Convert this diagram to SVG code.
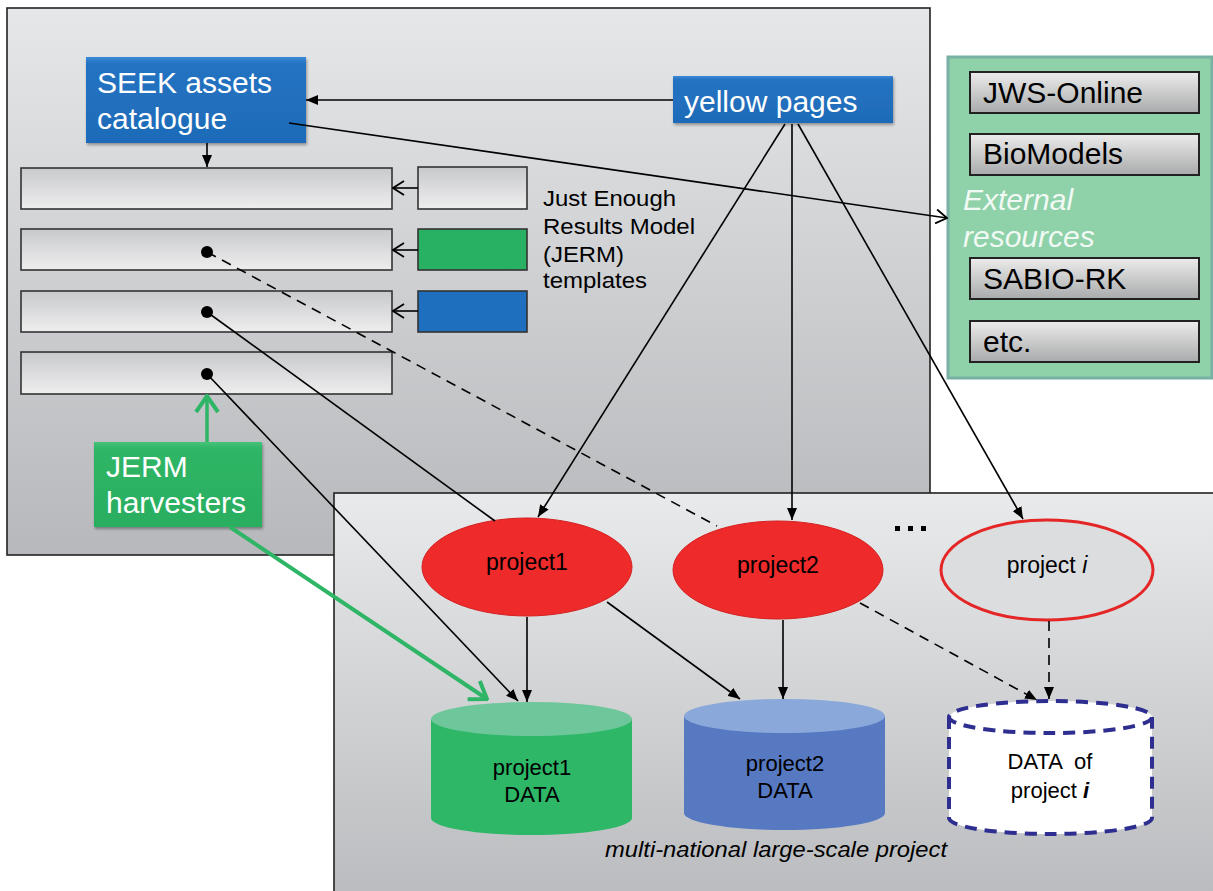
<svg xmlns="http://www.w3.org/2000/svg" width="1213" height="891" viewBox="0 0 1213 891">
<style>
text{font-family:"Liberation Sans",Arial,sans-serif}
.wt{fill:#fff;font-size:30px}
.bt{fill:#000;font-size:30px}
.pt{fill:#000;font-size:23px}
.dt{fill:#000;font-size:22px}
.ln{fill:none;stroke:#000;stroke-width:1.6}
.dash{stroke-dasharray:10 7}
.row{fill:url(#rowg);stroke:#333;stroke-width:1.6}
.ext{fill:url(#extg);stroke:#222;stroke-width:2}
</style>
<defs>
<linearGradient id="topg" x1="0" y1="0" x2="0" y2="1"><stop offset="0" stop-color="#e6e7e9"/><stop offset="1" stop-color="#b6b8bb"/></linearGradient>
<linearGradient id="botg" x1="0" y1="0" x2="0" y2="1"><stop offset="0" stop-color="#e9eaeb"/><stop offset="1" stop-color="#b9bbbe"/></linearGradient>
<linearGradient id="rowg" x1="0" y1="0" x2="0" y2="1"><stop offset="0" stop-color="#c8c9cb"/><stop offset="1" stop-color="#eeeeef"/></linearGradient>
<linearGradient id="extg" x1="0" y1="0" x2="0" y2="1"><stop offset="0" stop-color="#ececec"/><stop offset="1" stop-color="#a9aaab"/></linearGradient>
<linearGradient id="blueg" x1="0" y1="0" x2="0" y2="1"><stop offset="0" stop-color="#3b8ad6"/><stop offset="0.08" stop-color="#2373c2"/><stop offset="1" stop-color="#1e6bb8"/></linearGradient>
<linearGradient id="greeng" x1="0" y1="0" x2="0" y2="1"><stop offset="0" stop-color="#45c27a"/><stop offset="0.08" stop-color="#2fb566"/><stop offset="1" stop-color="#2aae60"/></linearGradient>
<filter id="sh" x="-10%" y="-10%" width="130%" height="140%"><feDropShadow dx="1" dy="2" stdDeviation="1.5" flood-color="#000" flood-opacity="0.35"/></filter>
<marker id="ah" viewBox="0 0 12 10" refX="12" refY="5" markerWidth="12" markerHeight="10" orient="auto" markerUnits="userSpaceOnUse"><path d="M0,0 L12,5 L0,10 z" fill="#000"/></marker>
<marker id="oa" viewBox="0 0 13 16" refX="12" refY="8" markerWidth="13" markerHeight="16" orient="auto" markerUnits="userSpaceOnUse"><path d="M1,1 L12,8 L1,15" fill="none" stroke="#000" stroke-width="1.8"/></marker>
<marker id="ga" viewBox="0 0 20 26" refX="18" refY="13" markerWidth="20" markerHeight="26" orient="auto" markerUnits="userSpaceOnUse"><path d="M2,2 L18,13 L2,24" fill="none" stroke="#2fb566" stroke-width="4"/></marker>
</defs>

<g id="top-panel"><rect x="7" y="8" width="923" height="547" fill="url(#topg)" stroke="#222" stroke-width="1.6"/></g>

<g id="external-panel">
<rect x="948" y="57" width="264" height="321" fill="#8fd1a9" stroke="#79b0a4" stroke-width="3"/>
<rect x="970" y="72" width="229" height="41" class="ext"/><text x="983" y="103" class="bt" font-size="29">JWS-Online</text>
<rect x="970" y="134" width="229" height="41" class="ext"/><text x="983" y="164" class="bt" font-size="29">BioModels</text>
<text x="963" y="210" class="wt" font-style="italic" fill-opacity="0.9">External</text>
<text x="963" y="247" class="wt" font-style="italic" fill-opacity="0.9">resources</text>
<rect x="970" y="258" width="229" height="41" class="ext"/><text x="983" y="289" class="bt" font-size="29">SABIO-RK</text>
<rect x="970" y="321" width="229" height="41" class="ext"/><text x="983" y="352" class="bt" font-size="29">etc.</text>
</g>

<g id="rows">
<rect x="21" y="168" width="371" height="41" class="row"/>
<rect x="21" y="229" width="371" height="41" class="row"/>
<rect x="21" y="291" width="371" height="41" class="row"/>
<rect x="21" y="352" width="371" height="42" class="row"/>
</g>
<g id="templates">
<rect x="418" y="167" width="109" height="42" class="row"/>
<rect x="418" y="229" width="109" height="41" fill="#28b163" stroke="#333" stroke-width="1.6"/>
<rect x="418" y="291" width="109" height="41" fill="#1e6fbd" stroke="#333" stroke-width="1.6"/>
<text x="543" y="206" class="dt" font-size="21" textLength="133" lengthAdjust="spacingAndGlyphs">Just Enough</text>
<text x="543" y="234" class="dt" font-size="21" textLength="152" lengthAdjust="spacingAndGlyphs">Results Model</text>
<text x="543" y="262" class="dt" font-size="21" textLength="81" lengthAdjust="spacingAndGlyphs">(JERM)</text>
<text x="543" y="288" class="dt" font-size="21" textLength="104" lengthAdjust="spacingAndGlyphs">templates</text>
</g>

<g id="seek"><rect x="86" y="57" width="220" height="86" fill="url(#blueg)" filter="url(#sh)"/>
<text x="97" y="93" class="wt">SEEK assets</text><text x="97" y="129" class="wt">catalogue</text></g>

<g id="yellow-pages"><rect x="673" y="76" width="220" height="47" fill="url(#blueg)" filter="url(#sh)"/>
<text x="684" y="112" class="wt">yellow pages</text></g>

<g id="harvesters"><rect x="94" y="442" width="168" height="85" fill="url(#greeng)" filter="url(#sh)"/>
<text x="106" y="477" class="wt">JERM</text><text x="106" y="513" class="wt">harvesters</text></g>

<g id="bottom-panel"><rect x="334" y="493" width="890" height="410" fill="url(#botg)" stroke="#222" stroke-width="1.6"/>
<text x="605" y="857" class="dt" font-style="italic" textLength="342" lengthAdjust="spacingAndGlyphs">multi-national large-scale project</text>
<rect x="895" y="526" width="5" height="5" fill="#000"/><rect x="908" y="526" width="5" height="5" fill="#000"/><rect x="921" y="526" width="5" height="5" fill="#000"/>
</g>

<g id="project1"><ellipse cx="527" cy="567" rx="105" ry="49" fill="#ee2a2a" stroke="#d42020" stroke-width="1"/><text x="527" y="570" class="pt" text-anchor="middle">project1</text></g>
<g id="project2"><ellipse cx="778" cy="570" rx="105" ry="49" fill="#ee2a2a" stroke="#d42020" stroke-width="1"/><text x="778" y="573" class="pt" text-anchor="middle">project2</text></g>
<g id="projecti"><ellipse cx="1047" cy="570" rx="106" ry="50" fill="#dcdddf" stroke="#e52626" stroke-width="3"/><text x="1047" y="573" class="pt" text-anchor="middle">project <tspan font-style="italic">i</tspan></text></g>

<g id="data1">
<path d="M431,719 L431,818 A100.5,17 0 0 0 632,818 L632,719 z" fill="#2db767"/>
<ellipse cx="531.5" cy="719" rx="100.5" ry="17" fill="#6dc79a"/>
<text x="532" y="775" class="dt" text-anchor="middle">project1</text><text x="532" y="802" class="dt" text-anchor="middle">DATA</text>
</g>
<g id="data2">
<path d="M684,716 L684,813 A100.5,17 0 0 0 885,813 L885,716 z" fill="#5779c1"/>
<ellipse cx="784.5" cy="716" rx="100.5" ry="17" fill="#8aa9da"/>
<text x="785" y="771" class="dt" text-anchor="middle">project2</text><text x="785" y="798" class="dt" text-anchor="middle">DATA</text>
</g>
<g id="datai">
<path d="M949,717 L949,818 A101.5,16 0 0 0 1152,818 L1152,717" fill="#fff" stroke="#2e2e90" stroke-width="4" stroke-dasharray="12 8"/>
<ellipse cx="1050.5" cy="717" rx="101.5" ry="16" fill="#fff" stroke="#2e2e90" stroke-width="4" stroke-dasharray="12 8"/>
<text x="1050" y="769" class="dt" text-anchor="middle" xml:space="preserve">DATA  of</text>
<text x="1050" y="798" class="dt" text-anchor="middle">project <tspan font-weight="bold" font-style="italic">i</tspan></text>
</g>

<g id="connectors">
<line x1="673" y1="100" x2="306" y2="100" class="ln" marker-end="url(#ah)"/>
<line x1="289" y1="123" x2="947" y2="218" class="ln" marker-end="url(#oa)"/>
<line x1="207" y1="143" x2="207" y2="167" class="ln" marker-end="url(#ah)"/>
<line x1="418" y1="188" x2="393" y2="188" class="ln" marker-end="url(#oa)"/>
<line x1="418" y1="250" x2="393" y2="250" class="ln" marker-end="url(#oa)"/>
<line x1="418" y1="311" x2="393" y2="311" class="ln" marker-end="url(#oa)"/>
<circle cx="207" cy="252" r="6" fill="#000"/>
<circle cx="207" cy="312" r="6" fill="#000"/>
<circle cx="207" cy="374" r="6" fill="#000"/>
<line x1="207" y1="252" x2="717" y2="526" class="ln dash"/>
<line x1="207" y1="312" x2="495" y2="521" class="ln"/>
<line x1="207" y1="374" x2="518" y2="701" class="ln" marker-end="url(#ah)"/>
<line x1="207" y1="442" x2="207" y2="396" stroke="#2fb566" stroke-width="3.5" marker-end="url(#ga)"/>
<line x1="230" y1="527" x2="487" y2="699" stroke="#2fb566" stroke-width="4" marker-end="url(#ga)"/>
<line x1="785" y1="124" x2="538" y2="517" class="ln" marker-end="url(#ah)"/>
<line x1="792" y1="124" x2="792" y2="520" class="ln" marker-end="url(#ah)"/>
<line x1="798" y1="124" x2="1023" y2="519" class="ln" marker-end="url(#ah)"/>
<line x1="527" y1="617" x2="527" y2="702" class="ln" marker-end="url(#ah)"/>
<line x1="607" y1="602" x2="740" y2="699" class="ln" marker-end="url(#ah)"/>
<line x1="783" y1="620" x2="783" y2="699" class="ln" marker-end="url(#ah)"/>
<line x1="860" y1="603" x2="1037" y2="700" class="ln dash" marker-end="url(#ah)"/>
<line x1="1049" y1="621" x2="1049" y2="699" class="ln dash" marker-end="url(#ah)"/>
</g>
</svg>
